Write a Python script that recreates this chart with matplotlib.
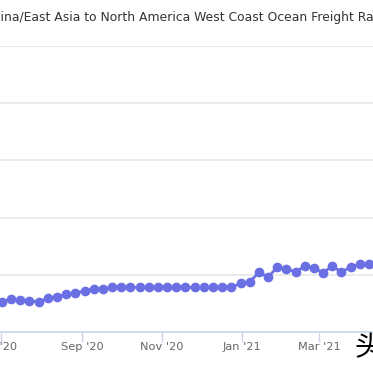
import matplotlib
matplotlib.use("Agg")
import matplotlib.pyplot as plt
import matplotlib.dates as mdates
import datetime as dt

plt.rcParams["savefig.bbox"] = None

# ---- data ----
start_date = dt.date(2020, 7, 2)
rates = [2650, 2860, 2770, 2720, 2650, 2940, 3080, 3300, 3380, 3600,
         3760, 3760, 3900, 3940, 3910, 3900, 3900, 3900, 3900, 3900,
         3900, 3900, 3900, 3900, 3900, 3900, 4250, 4370, 5210, 4800,
         5650, 5550, 5240, 5760, 5610, 5180, 5760, 5220, 5700, 5920, 5920]
dates = [start_date + dt.timedelta(days=7 * i) for i in range(len(rates))]
tick_dates = [dt.date(2020, 7, 1), dt.date(2020, 9, 1), dt.date(2020, 11, 1),
              dt.date(2021, 1, 1), dt.date(2021, 3, 1)]
yticks = [0, 5000, 10000, 15000, 20000, 25000]
title = "China/East Asia to North America West Coast Ocean Freight Rates"
title_hidden_prefix = "Ch"
watermark = "头条"

W, H = 373, 373
fig = plt.figure(figsize=(W / 100, H / 100), dpi=100)
fig.patch.set_facecolor("white")

# axes geometry in pixels
ax_left_px, ax_right_px = 0, 373
ax_bottom_px, ax_top_px = 332, 46
ax = fig.add_axes([ax_left_px / W, 1 - ax_bottom_px / H,
                   (ax_right_px - ax_left_px) / W, (ax_bottom_px - ax_top_px) / H])

line_color = "#6a6fe3"
ax.plot(dates, rates, color=line_color, lw=2.0, marker="o", ms=7,
        markeredgewidth=0, solid_capstyle="round", clip_on=True, zorder=3)

ax.set_yticks(yticks)
ax.yaxis.grid(True, color="#e6e6e6", lw=1.2)
ax.tick_params(axis="y", length=0, labelleft=False)
ax.set_xticks([mdates.date2num(d) for d in tick_dates])
ax.xaxis.set_major_formatter(mdates.DateFormatter("%b '%y"))
ax.tick_params(axis="x", direction="out", length=7.5, width=1, color="#ccd6eb",
               labelsize=8.2, labelcolor="#666666", pad=0)

px_per_day = 1.311
x0 = mdates.date2num(dt.date(2020, 7, 1)) - 0.6 / px_per_day
x1 = x0 + (ax_right_px - ax_left_px) / px_per_day
ax.set_xlim(x0, x1)
ax.set_ylim(0, 25000)

for s in ["top", "right", "left"]:
    ax.spines[s].set_visible(False)
ax.spines["bottom"].set_color("#ccd6eb")
ax.spines["bottom"].set_linewidth(1.2)
ax.set_axisbelow(True)

# title, partially cropped on both sides
title_size = 8.9
fig.canvas.draw()
r = fig.canvas.get_renderer()
tmp = fig.text(0, 0, title_hidden_prefix, fontsize=title_size)
wpre = tmp.get_window_extent(r).width
tmp.remove()
fig.text(-wpre / W, 1 - 18 / H, title, fontsize=title_size, color="#333333",
         ha="left", va="center")

# watermark
fig.text(354 / W, 1 - 348 / H, watermark, fontsize=20, color="black",
         family=["Noto Sans CJK SC", "DejaVu Sans"], ha="left", va="center")

fig.savefig("out.png", dpi=100, facecolor="white", bbox_inches=None)
